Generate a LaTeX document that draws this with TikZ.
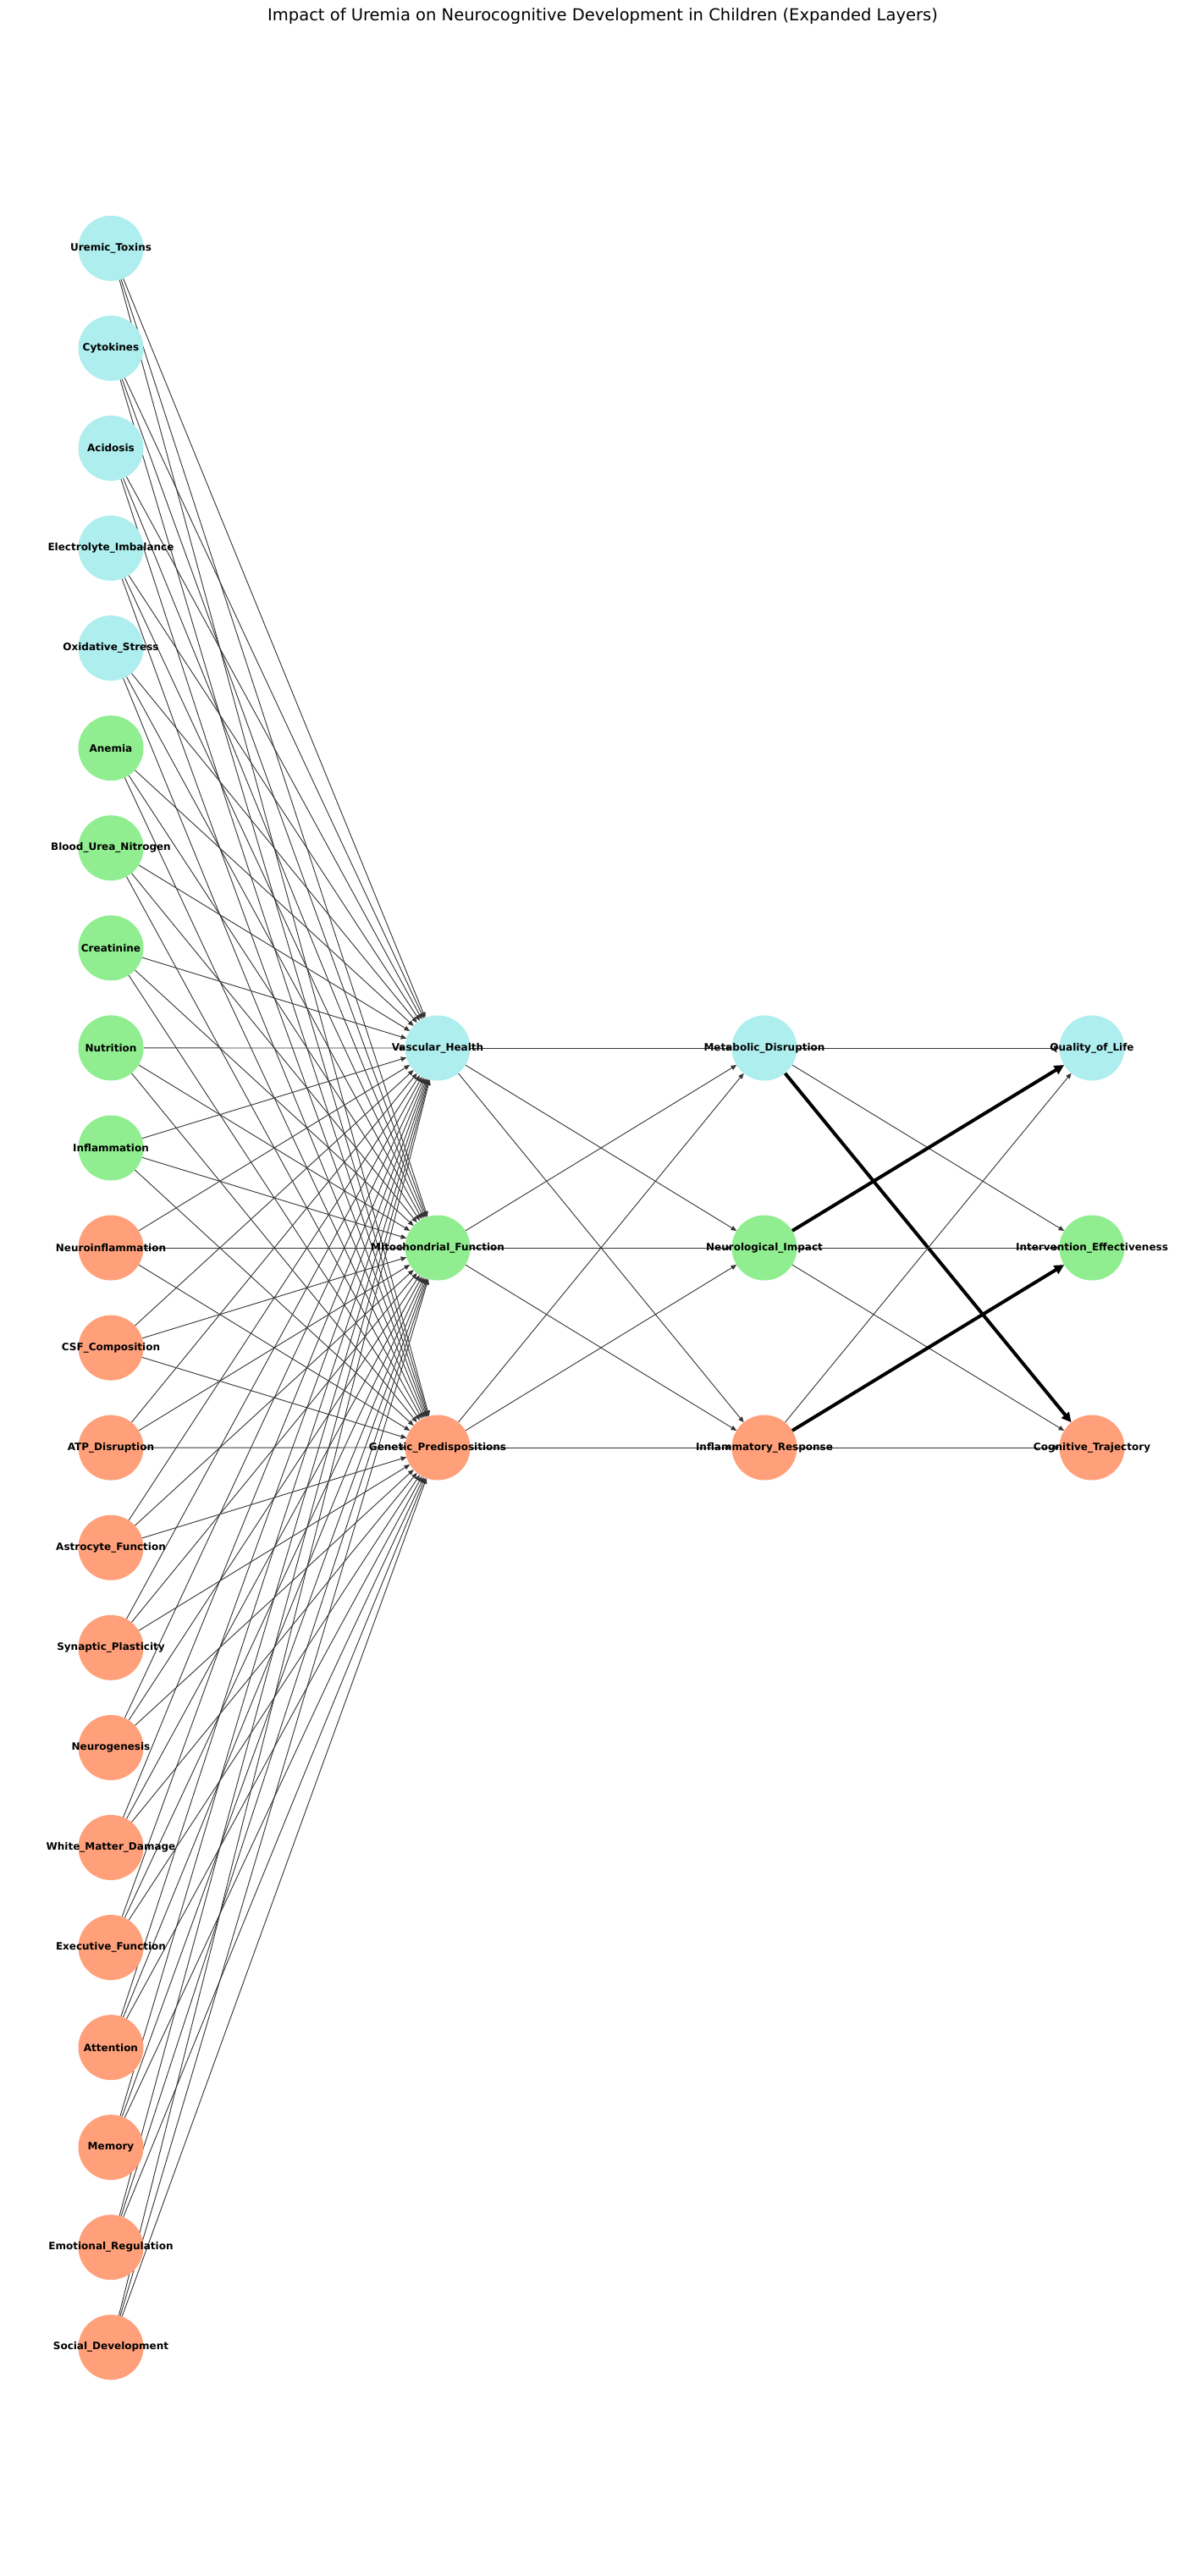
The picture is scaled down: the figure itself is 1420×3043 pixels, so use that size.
\documentclass[tikz,border=0pt]{standalone}
\usepackage{fontspec}
\setmainfont{DejaVu Sans}
\usepackage{xcolor}
\usetikzlibrary{arrows.meta}
\definecolor{turq}{HTML}{AFEEEE}
\definecolor{lgreen}{HTML}{90EE90}
\definecolor{salmon}{HTML}{FFA07A}
\pgfdeclarelayer{background}
\pgfsetlayers{background,main}
\tikzset{
  ball/.style={circle, minimum size=77pt, inner sep=0pt, outer sep=0pt},
  every label/.style={font=\bfseries\fontsize{12}{14}\selectfont, inner sep=0pt},
  link/.style={draw=black!80, line width=0.9pt, -{Triangle[length=6.5pt,width=5.5pt]}},
  strong/.style={draw=black, line width=4pt, -{Triangle[length=11.5pt,width=11pt]}}
}

\begin{document}
\begin{tikzpicture}[x=1pt, y=-1pt]
\useasboundingbox (0,0) rectangle (1420,3043);
\node[font=\fontsize{19.5}{23}\selectfont] (title) at (712,19) {Impact of Uremia on Neurocognitive Development in Children (Expanded Layers)};
% input layer
\node[ball, fill=turq, label=center:Uremic\_Toxins] (toxins) at (131,293.3) {};
\node[ball, fill=turq, label=center:Cytokines] (cyto) at (131,411.4) {};
\node[ball, fill=turq, label=center:Acidosis] (acid) at (131,529.4) {};
\node[ball, fill=turq, label=center:Electrolyte\_Imbalance] (electro) at (131,647.5) {};
\node[ball, fill=turq, label=center:Oxidative\_Stress] (oxid) at (131,765.6) {};
\node[ball, fill=lgreen, label=center:Anemia] (anemia) at (131,883.7) {};
\node[ball, fill=lgreen, label=center:Blood\_Urea\_Nitrogen] (bun) at (131,1001.7) {};
\node[ball, fill=lgreen, label=center:Creatinine] (creat) at (131,1119.8) {};
\node[ball, fill=lgreen, label=center:Nutrition] (nutri) at (131,1237.9) {};
\node[ball, fill=lgreen, label=center:Inflammation] (inflam) at (131,1356.0) {};
\node[ball, fill=salmon, label=center:Neuroinflammation] (neuroinf) at (131,1474.0) {};
\node[ball, fill=salmon, label=center:CSF\_Composition] (csf) at (131,1592.1) {};
\node[ball, fill=salmon, label=center:ATP\_Disruption] (atp) at (131,1710.1) {};
\node[ball, fill=salmon, label=center:Astrocyte\_Function] (astro) at (131,1828.2) {};
\node[ball, fill=salmon, label=center:Synaptic\_Plasticity] (synap) at (131,1946.3) {};
\node[ball, fill=salmon, label=center:Neurogenesis] (neurogen) at (131,2064.4) {};
\node[ball, fill=salmon, label=center:White\_Matter\_Damage] (white) at (131,2182.4) {};
\node[ball, fill=salmon, label=center:Executive\_Function] (exec) at (131,2300.5) {};
\node[ball, fill=salmon, label=center:Attention] (atten) at (131,2418.6) {};
\node[ball, fill=salmon, label=center:Memory] (memory) at (131,2536.6) {};
\node[ball, fill=salmon, label=center:Emotional\_Regulation] (emotion) at (131,2654.7) {};
\node[ball, fill=salmon, label=center:Social\_Development] (social) at (131,2772.8) {};
% second layer
\node[ball, fill=turq, label=center:Vascular\_Health] (vasc) at (517,1238) {};
\node[ball, fill=lgreen, label=center:Mitochondrial\_Function] (mito) at (517,1474) {};
\node[ball, fill=salmon, label=center:Genetic\_Predispositions] (gene) at (517,1710) {};
% third layer
\node[ball, fill=turq, label=center:Metabolic\_Disruption] (metab) at (903,1238) {};
\node[ball, fill=lgreen, label=center:Neurological\_Impact] (neuro) at (903,1474) {};
\node[ball, fill=salmon, label=center:Inflammatory\_Response] (inflresp) at (903,1710) {};
% output layer
\node[ball, fill=turq, label=center:Quality\_of\_Life] (qol) at (1290,1238) {};
\node[ball, fill=lgreen, label=center:Intervention\_Effectiveness] (interv) at (1290,1474) {};
\node[ball, fill=salmon, label=center:Cognitive\_Trajectory] (cogn) at (1290,1710) {};
% connections
\begin{pgfonlayer}{background}
\fill[white] (0,0) rectangle (1420,3043);
\foreach \src in {toxins,cyto,acid,electro,oxid,anemia,bun,creat,nutri,inflam,neuroinf,csf,atp,astro,synap,neurogen,white,exec,atten,memory,emotion,social}
  \foreach \dst in {vasc,mito,gene}
    \draw[link] (\src) -- (\dst);
\foreach \src in {vasc,mito,gene}
  \foreach \dst in {metab,neuro,inflresp}
    \draw[link] (\src) -- (\dst);
\draw[link] (metab) -- (qol);
\draw[link] (metab) -- (interv);
\draw[strong] (metab) -- (cogn);
\draw[strong] (neuro) -- (qol);
\draw[link] (neuro) -- (interv);
\draw[link] (neuro) -- (cogn);
\draw[link] (inflresp) -- (qol);
\draw[strong] (inflresp) -- (interv);
\draw[link] (inflresp) -- (cogn);
\end{pgfonlayer}
\end{tikzpicture}
\end{document}
